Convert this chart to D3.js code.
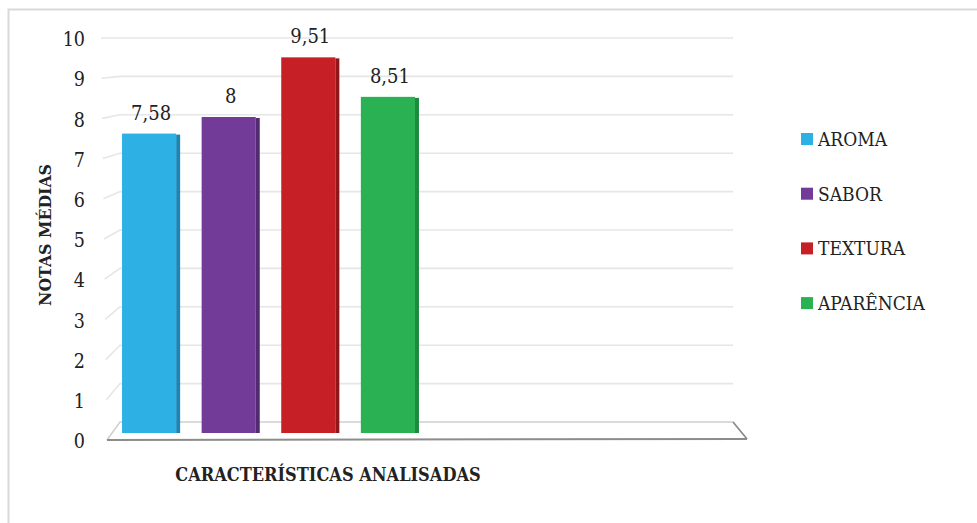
<!DOCTYPE html>
<html>
<head>
<meta charset="utf-8">
<script src="https://cdn.jsdelivr.net/npm/d3@7"></script>
<style>
  html, body { margin: 0; padding: 0; background: #fff; }
  svg { display: block; }
  text { font-family: "DejaVu Serif Condensed", "DejaVu Serif", serif; fill: #222; }
</style>
</head>
<body>
<svg id="chart" width="977" height="523"></svg>
<script>
// Mean scores per sensory attribute
const series = ["AROMA", "SABOR", "TEXTURA", "APARÊNCIA"];
const values = [7.58, 8, 9.51, 8.51];
const valueLabels = ["7,58", "8", "9,51", "8,51"];
const colors = ["#2DB1E5", "#713B97", "#C62026", "#29B153"];
const sideColors = ["#1A86B5", "#522A72", "#8F171B", "#1D8A3E"];
const yTicks = [0, 1, 2, 3, 4, 5, 6, 7, 8, 9, 10];
const yTitle = "NOTAS MÉDIAS";
const xTitle = "CARACTERÍSTICAS ANALISADAS";

const svg = d3.select("#chart");
const FONT = '"DejaVu Serif Condensed", "DejaVu Serif", serif';

// outer frame
svg.append("rect")
  .attr("x", 8.5).attr("y", 9.5)
  .attr("width", 980).attr("height", 530)
  .attr("fill", "none").attr("stroke", "#d9d9d9").attr("stroke-width", 2);

// scales: back wall (gridlines), front face (bars), tick labels
const yBack = d3.scaleLinear().domain([0, 10]).range([422, 38]);
const yFront = d3.scaleLinear().domain([0, 10]).range([433, 38]);
const yLabel = d3.scaleLinear().domain([0, 10]).range([441.5, 39.5]);
const x = d3.scaleBand().domain(series).range([112, 429]).paddingInner(0.27).paddingOuter(0.126);
const color = d3.scaleOrdinal().domain(series).range(colors);
const side = d3.scaleOrdinal().domain(series).range(sideColors);

const wallLeft = 120, wallRight = 733;

// gridlines on back wall with a short receding piece on the left wall
const grid = svg.append("g");
grid.selectAll("path.gl")
  .data(yTicks.filter(d => d > 0))
  .join("path")
  .attr("class", "gl")
  .attr("fill", "none")
  .attr("stroke", "#e6e6e6")
  .attr("stroke-width", 1.6)
  .attr("d", d => {
    const yb = yBack(d);
    const drop = 18 * (1 - d / 10);
    const lx = 107 - 0.6 * d;
    return `M${lx},${yb + drop} L${wallLeft},${yb} L${wallRight},${yb}`;
  });

// floor
const fy0 = yBack(0), fy1 = 440;
svg.append("path")
  .attr("d", `M107,${fy1} L${wallLeft},${fy0} L${wallRight},${fy0} L747,${fy1 - 1}`)
  .attr("fill", "#fff").attr("stroke", "#cfcfcf").attr("stroke-width", 1.5);
svg.append("path")
  .attr("d", `M107,${fy1} L747,${fy1 - 1}`)
  .attr("stroke", "#8c8c8c").attr("stroke-width", 2).attr("fill", "none");
svg.append("path")
  .attr("d", `M733,${fy0} L747,${fy1 - 1}`)
  .attr("stroke", "#8c8c8c").attr("stroke-width", 1.6).attr("fill", "none");

// y tick labels
const yAxis = d3.axisLeft(yLabel).tickValues(yTicks).tickSize(0).tickPadding(0).tickFormat(d3.format("d"));
const ya = svg.append("g").attr("transform", "translate(85,0)").call(yAxis);
ya.select(".domain").remove();
ya.selectAll("text")
  .style("font-family", FONT)
  .style("font-size", "19.5px").attr("fill", "#222");

// bars
const bw = x.bandwidth();
const sideW = 4;
const bars = svg.append("g").selectAll("g").data(series).join("g");
bars.append("rect")
  .attr("x", d => x(d))
  .attr("y", (d, i) => yFront(values[i]))
  .attr("width", bw - sideW)
  .attr("height", (d, i) => yFront(0) - yFront(values[i]))
  .attr("fill", d => color(d));
bars.append("rect")
  .attr("x", d => x(d) + bw - sideW)
  .attr("y", (d, i) => yFront(values[i]) + 1)
  .attr("width", sideW)
  .attr("height", (d, i) => yFront(0) - yFront(values[i]) - 1)
  .attr("fill", d => side(d));

// value labels
bars.append("text")
  .attr("x", d => x(d) + bw / 2)
  .attr("y", (d, i) => yFront(values[i]) - 14)
  .attr("text-anchor", "middle")
  .style("font-size", "20px")
  .text((d, i) => valueLabels[i]);

// axis titles
svg.append("text")
  .attr("transform", "translate(51,235) rotate(-90)")
  .attr("text-anchor", "middle")
  .style("font-size", "17.5px").style("font-weight", "bold")
  .attr("fill", "#1a1a1a")
  .text(yTitle);
svg.append("text")
  .attr("x", 328).attr("y", 481)
  .attr("text-anchor", "middle")
  .style("font-size", "18px").style("font-weight", "bold")
  .attr("fill", "#1a1a1a")
  .text(xTitle);

// legend
const legend = svg.append("g").selectAll("g").data(series).join("g")
  .attr("transform", (d, i) => `translate(801,${139 + i * 54.7})`);
legend.append("rect")
  .attr("x", 0).attr("y", -6).attr("width", 12).attr("height", 12)
  .attr("fill", d => color(d));
legend.append("text")
  .attr("x", 17).attr("y", 0).attr("dy", "0.36em")
  .style("font-size", "19px")
  .text(d => d);
</script>
</body>
</html>
